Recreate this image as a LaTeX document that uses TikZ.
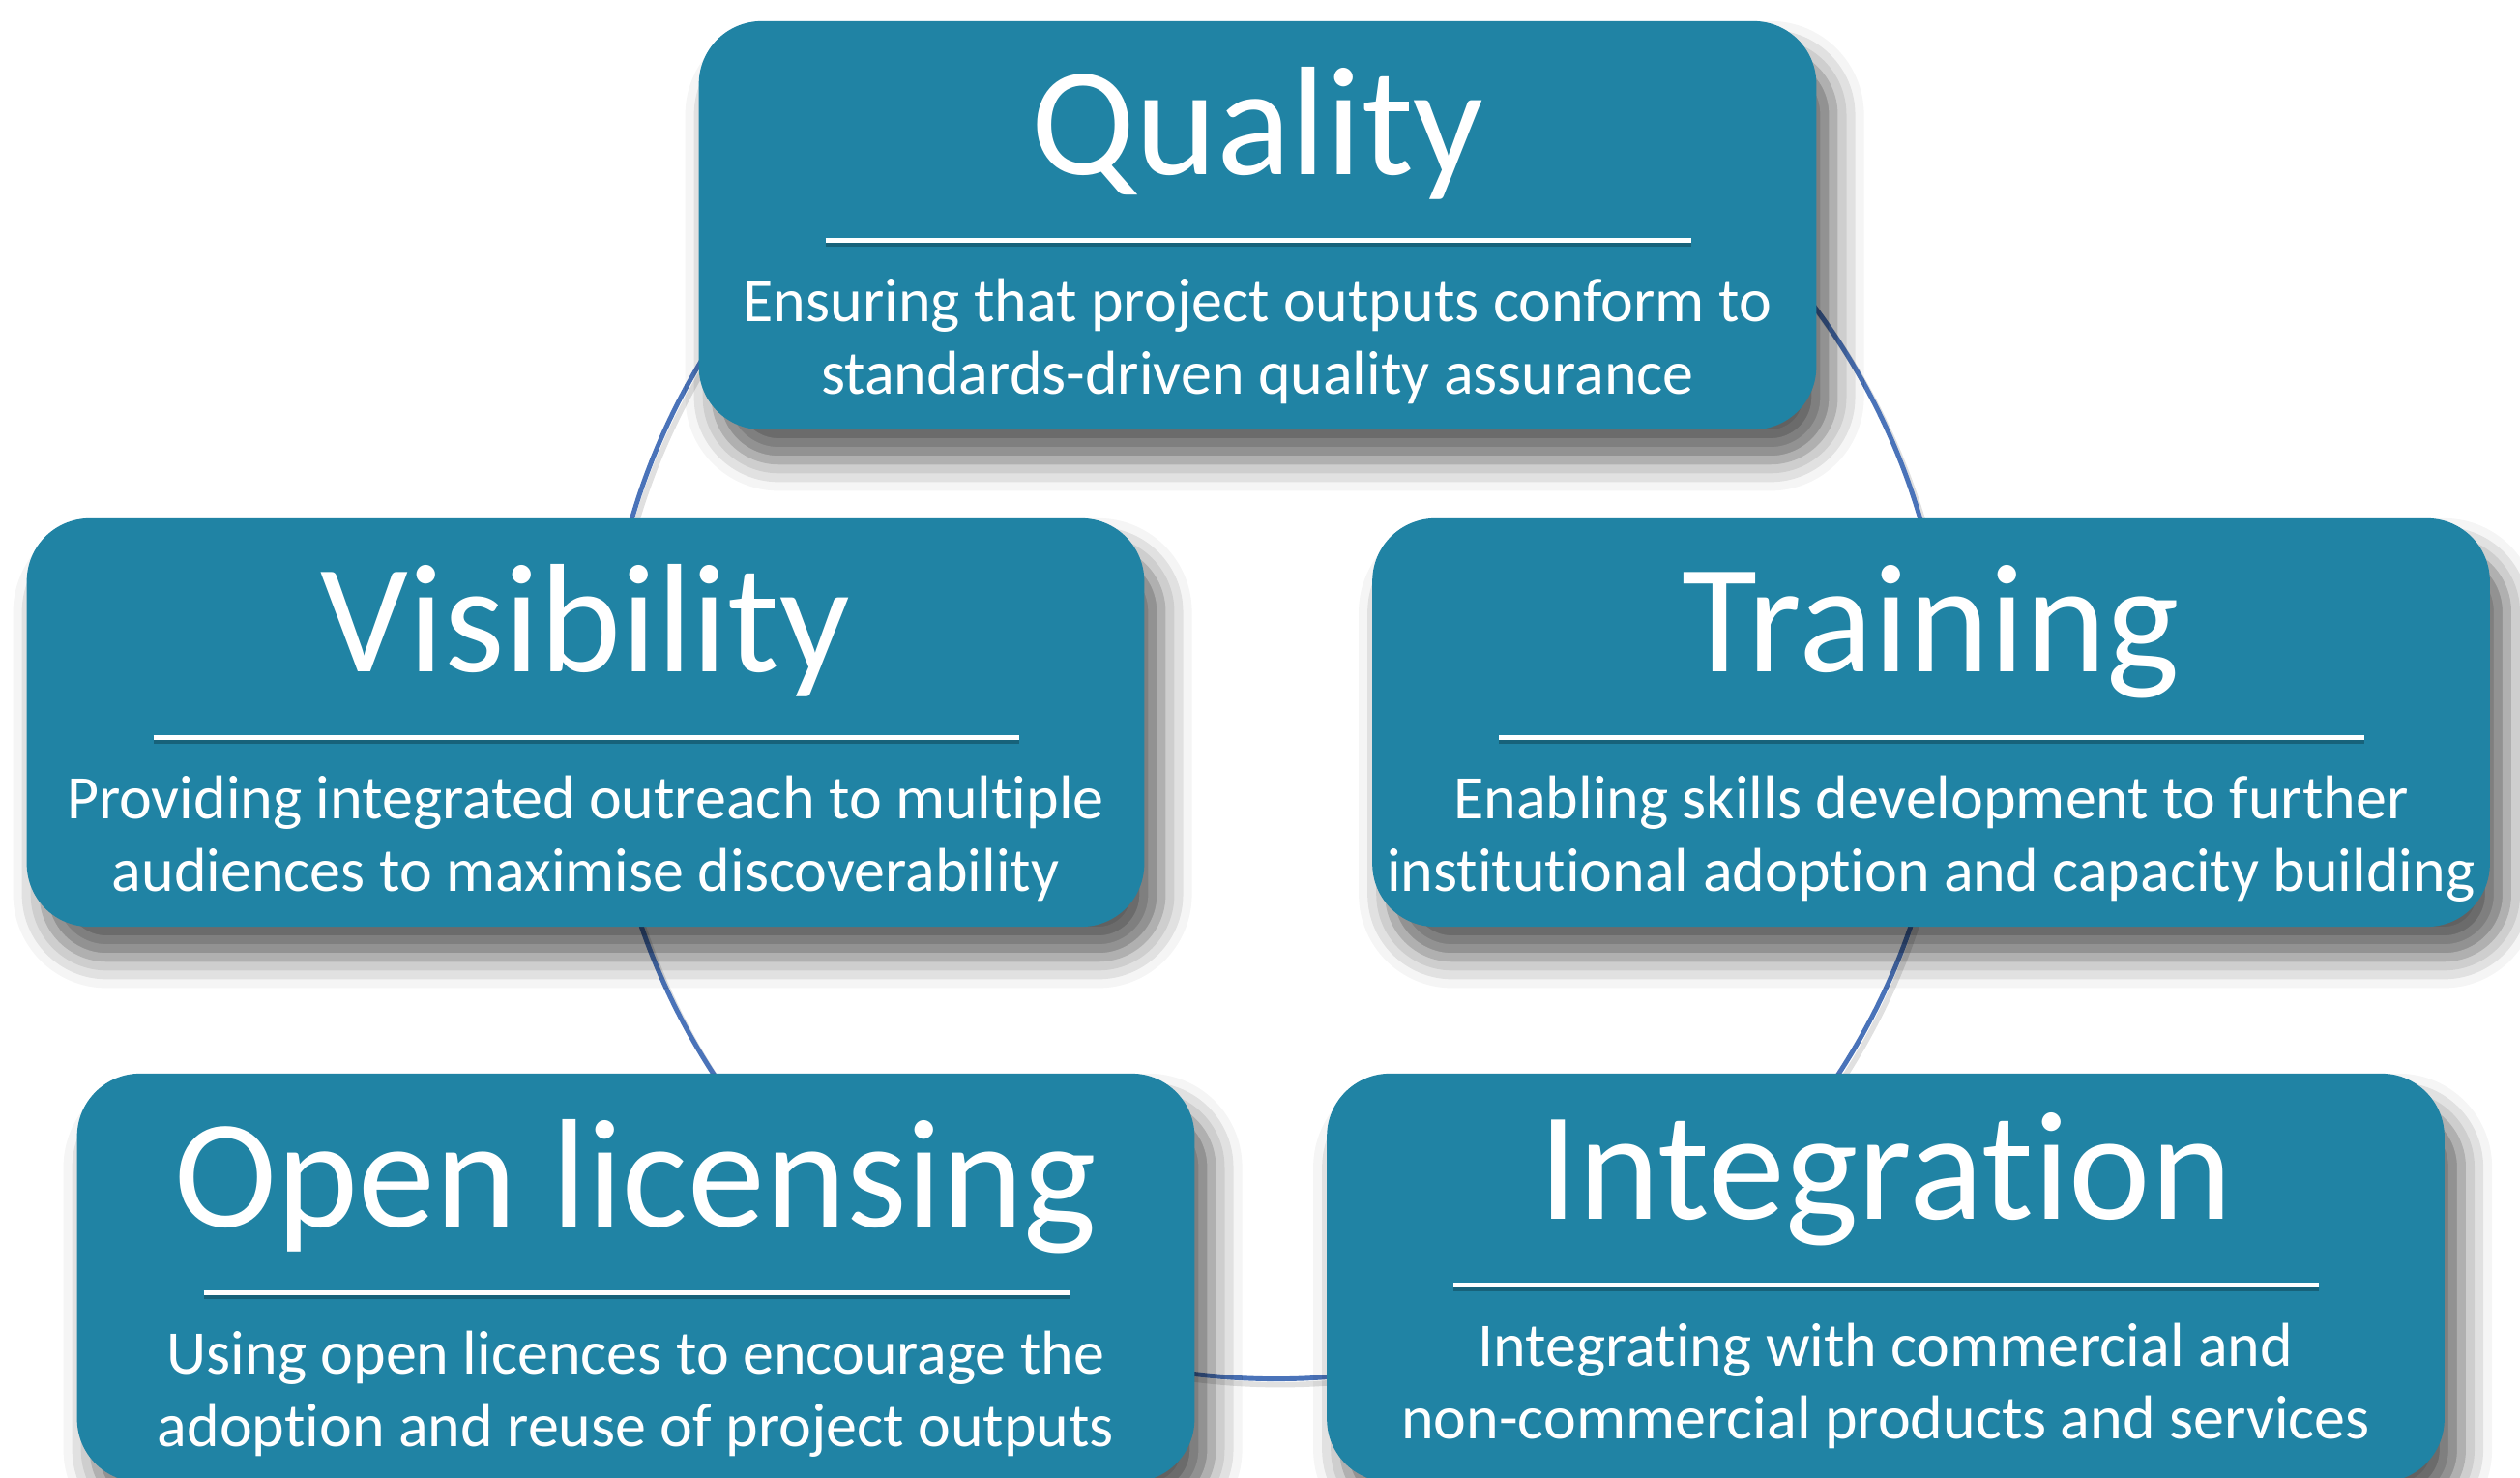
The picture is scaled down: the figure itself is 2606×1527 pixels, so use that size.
\documentclass[tikz,border=0pt]{standalone}
\usepackage{fontspec}
\setmainfont{Carlito}[Ligatures=NoCommon]
\usetikzlibrary{calc,positioning,shadows.blur}
\definecolor{boxteal}{HTML}{2083A4}
\definecolor{ringblue}{HTML}{4A73B9}
\tikzset{
	pillar/.style={
		fill=boxteal, rounded corners=0.65cm,
		minimum width=11.55cm, minimum height=4.22cm,
		inner sep=0pt, outer sep=0pt,
		blur shadow={shadow xshift=5pt, shadow yshift=-9pt,
			shadow blur radius=9pt, shadow opacity=62}},
	pillar title/.style={anchor=base, text=white, inner sep=0pt,
		font=\fontsize{45.5}{54}\selectfont},
	pillar text/.style={anchor=base, text=white, align=center, inner sep=0pt,
		font=\fontsize{18.2}{21.3}\selectfont},
	pillar rule/.style={draw=white, line width=1.4pt},
	rule shadow/.style={draw=black, opacity=0.25, line width=1.4pt},
	ring/.style={draw=ringblue, line width=1.4pt},
	ring shadow/.style={draw=black, opacity=0.12, line width=1.6pt}
}
% box, title, rule and two lines of text; #1 lifts the contents
\newcommand{\pillarbox}[5][0]{%
	\node[pillar] (#2) at (#3) {};
	\node[pillar title] (#2-title) at ($(#2.north)+(0,-159+#1)$) {#4};
	\draw[rule shadow] ($(#2.north)+(-447,-231+#1)$) -- +(895,0);
	\draw[pillar rule] ($(#2.north)+(-447,-227+#1)$) coordinate (#2-rule) -- +(895,0);
	% base of a two-line node sits on its last line
	\node[pillar text] (#2-text) at ($(#2.north)+(0,-386+#1)$) {#5};
}

\begin{document}
\begin{tikzpicture}[x=0.01cm, y=0.01cm]
	\useasboundingbox (0,0) rectangle (2606,1527);
	\coordinate (hub) at (1319.6,795.4);
	\draw[ring shadow] ($(hub)+(4,-6)$) circle[radius=694];
	\draw[ring] (hub) circle[radius=694];
	\pillarbox{quality}{1300.5,1294}{Quality}
		{Ensuring that project outputs conform to\\standards-driven quality assurance}
	\pillarbox{visibility}{605.5,780}{Visibility}
		{Providing integrated outreach to multiple\\audiences to maximise discoverability}
	\pillarbox{training}{1997,780}{Training}
		{Enabling skills development to further\\institutional adoption and capacity building}
	\pillarbox{licensing}{657.5,206}{Open licensing}
		{Using open licences to encourage the\\adoption and reuse of project outputs}
	\pillarbox[8]{integration}{1950,206}{Integration}
		{Integrating with commercial and\\non-commercial products and services}
\end{tikzpicture}
\end{document}
